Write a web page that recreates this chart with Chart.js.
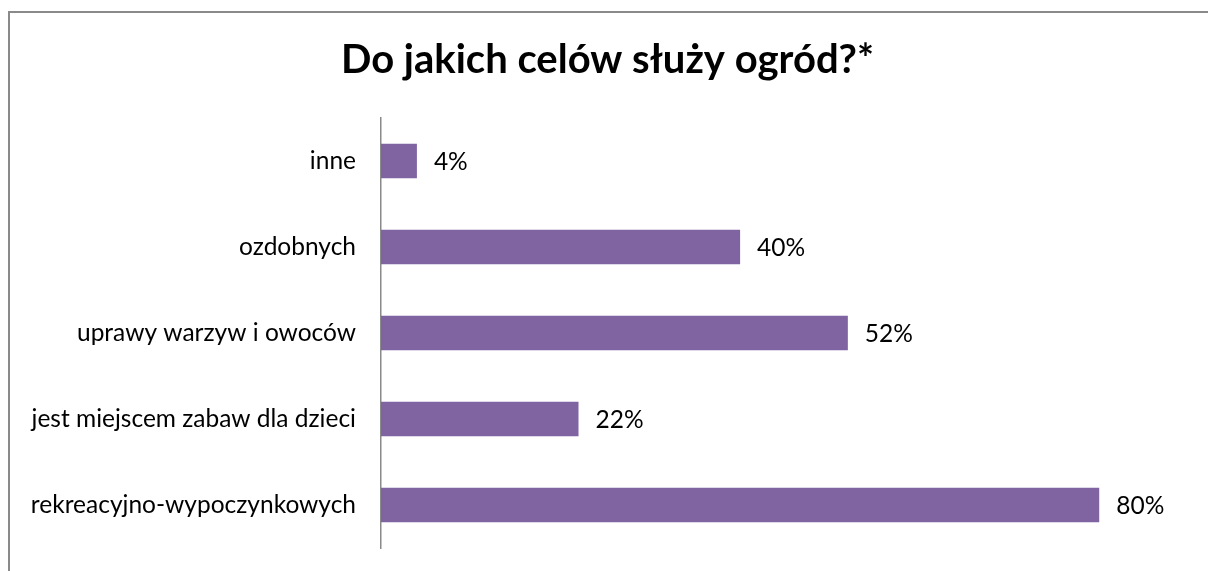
<!DOCTYPE html>
<html>
<head>
<meta charset="utf-8">
<script src="https://cdn.jsdelivr.net/npm/chart.js@4"></script>
<style>
  html, body { margin: 0; padding: 0; background: #fff; overflow: hidden; }
  #wrap { position: relative; width: 1208px; height: 571px; }
  #frame { position: absolute; left: 8px; top: 11px; width: 1300px; height: 700px; border: 2px solid #8a8a8a; box-sizing: border-box; }
  canvas { position: absolute; left: 0; top: 0; }
</style>
</head>
<body>
<div id="wrap">
  <div id="frame"></div>
  <canvas id="myChart" width="1208" height="571"></canvas>
</div>
<script>
const categories = ['inne', 'ozdobnych', 'uprawy warzyw i owoców', 'jest miejscem zabaw dla dzieci', 'rekreacyjno-wypoczynkowych']
const values = [4, 40, 52, 22, 80]

const FONT = 'Lato, "Open Sans", sans-serif'

// etykiety z wartościami przy końcu słupków
const valueLabels = {
  id: 'valueLabels',
  afterDatasetsDraw(chart) {
    const c = chart.ctx
    const meta = chart.getDatasetMeta(0)
    c.save()
    c.font = '24.5px ' + FONT
    c.fillStyle = '#000'
    c.textAlign = 'left'
    c.textBaseline = 'middle'
    meta.data.forEach((bar, i) => {
      c.fillText(values[i] + '%', bar.x + 17, bar.y + 1)
    })
    c.restore()
  }
}

const ctx = document.getElementById('myChart')

const myChart = new Chart(ctx, {
  type: 'bar',
  data: {
    labels: categories,
    datasets: [{
      data: values,
      backgroundColor: '#8064A2',
      borderWidth: 0,
      barPercentage: 0.8,
      categoryPercentage: 0.5
    }]
  },
  options: {
    indexAxis: 'y',
    responsive: false,
    animation: false,
    layout: { padding: { left: 26, right: 19, top: 0, bottom: 23 } },
    scales: {
      x: {
        display: false,
        min: 0,
        max: 90
      },
      y: {
        afterFit(scale) {
          scale.width = 355
          scale.paddingTop = 0
          scale.paddingBottom = 0
        },
        grid: { display: false, drawTicks: false },
        border: { display: true, color: '#8a8a8a', width: 1.5 },
        ticks: {
          color: '#000',
          padding: 25,
          font: { family: FONT, size: 24.5 }
        }
      }
    },
    plugins: {
      legend: { display: false },
      tooltip: { enabled: false },
      title: {
        display: true,
        text: 'Do jakich celów służy ogród?*',
        color: '#000',
        font: { family: FONT, size: 40, weight: 'bold', lineHeight: 1.2 },
        padding: { top: 36, bottom: 34 }
      }
    }
  },
  plugins: [valueLabels]
});
</script>
</body>
</html>
